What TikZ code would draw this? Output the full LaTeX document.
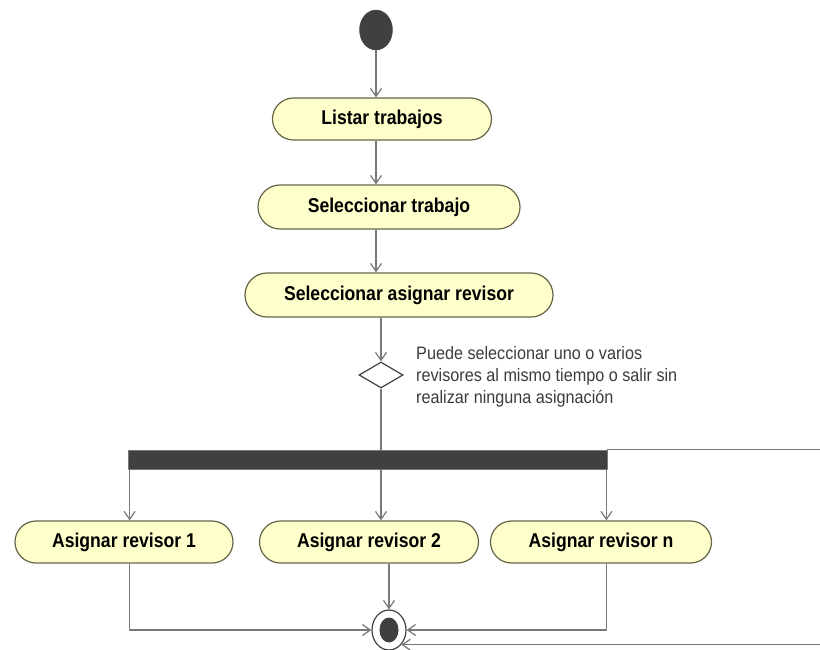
\documentclass[tikz,border=0pt]{standalone}
\usepackage{fontspec}
\setmainfont{Liberation Sans}
\newfontfamily\actfont{Liberation Sans}[FakeStretch=0.88]
\newfontfamily\notefont{Liberation Sans}[FakeStretch=0.9]
\usepackage{xcolor}
\usetikzlibrary{arrows.meta,shapes.misc,shapes.geometric,positioning}
\definecolor{actfill}{RGB}{255,255,204}
\definecolor{actborder}{RGB}{100,100,72}
\definecolor{flowgray}{RGB}{120,120,120}
\definecolor{darkfill}{RGB}{64,64,64}
\definecolor{notegray}{RGB}{60,60,60}
\tikzset{
  activity/.style={rounded rectangle, draw=actborder, line width=1.2pt, fill=actfill,
    inner sep=0pt, minimum height=42pt, font=\actfont\bfseries\fontsize{20}{22}\selectfont},
  flow/.style={draw=flowgray, line width=1.2pt, -{Straight Barb[length=8pt,width=11pt]}},
  plain/.style={draw=flowgray, line width=1.2pt},
}

\begin{document}
\begin{tikzpicture}[x=1pt,y=-1pt]
  \useasboundingbox (0,0) rectangle (820,649);
  % nodes
  \node[ellipse, fill=darkfill, draw=darkfill, minimum width=33pt, minimum height=40pt, inner sep=0pt] (start) at (376,30) {};
  \node[activity, minimum width=219pt] (listar) at (382,119) {Listar trabajos};
  \node[activity, minimum width=262pt, minimum height=44pt] (seltrab) at (389,207) {Seleccionar trabajo};
  \node[activity, minimum width=308pt, minimum height=44pt] (selasig) at (399,295) {Seleccionar asignar revisor};
  \node[diamond, draw=darkfill, line width=1.2pt, fill=white, minimum width=44pt, minimum height=26pt, inner sep=0pt] (dec) at (381,375) {};
  \node[notegray, anchor=north west, align=left, inner sep=0pt,
    font=\notefont\fontsize{18}{22}\selectfont] (note) at (416,346)
    {Puede seleccionar uno o varios\\revisores al mismo tiempo o salir sin\\realizar ninguna asignación};
  \node[rectangle, fill=darkfill, draw=flowgray, line width=0.8pt, minimum width=479pt, minimum height=19pt, inner sep=0pt] (bar) at (367.5,459.5) {};
  \node[activity, minimum width=218pt] (asig1) at (124,542) {Asignar revisor 1};
  \node[activity, minimum width=219pt] (asig2) at (369,542) {Asignar revisor 2};
  \node[activity, minimum width=221pt] (asign) at (601,542) {Asignar revisor n};
  \node[ellipse, draw=darkfill, line width=1.2pt, fill=white, minimum width=34pt, minimum height=40pt, inner sep=0pt] (fin) at (389,630) {};
  \node[ellipse, fill=darkfill, minimum width=19pt, minimum height=25pt, inner sep=0pt] (findot) at (fin) {};
  \coordinate (loop) at ([xshift=216pt]bar.north east);
  % connectors
  \draw[flow] (start) -- (start |- listar.north);
  \draw[flow] (listar.south -| start) -- (start |- seltrab.north);
  \draw[flow] (seltrab.south -| start) -- (start |- selasig.north);
  \draw[flow] (selasig.south -| dec) -- (dec.north);
  \draw[plain] (dec.south) -- (dec |- bar.north);
  \draw[flow] ([xshift=2pt]bar.south west) -- ([xshift=2pt]bar.south west |- asig1.north);
  \draw[flow] (bar.south -| dec) -- (dec |- asig2.north);
  \draw[flow] ([xshift=-1pt]bar.south east) -- ([xshift=-1pt]bar.south east |- asign.north);
  \draw[flow] ([xshift=2pt]bar.south west |- asig1.south) -- ([xshift=2pt]bar.south west |- fin.west) -- (fin.west);
  \draw[flow] (fin |- asig2.south) -- (fin.north);
  \draw[flow] ([xshift=-1pt]bar.south east |- asign.south) -- ([xshift=-1pt]bar.south east |- fin.east) -- (fin.east);
  \draw[flow] (bar.north east) -- (loop) |- (fin.-50);
\end{tikzpicture}
\end{document}
